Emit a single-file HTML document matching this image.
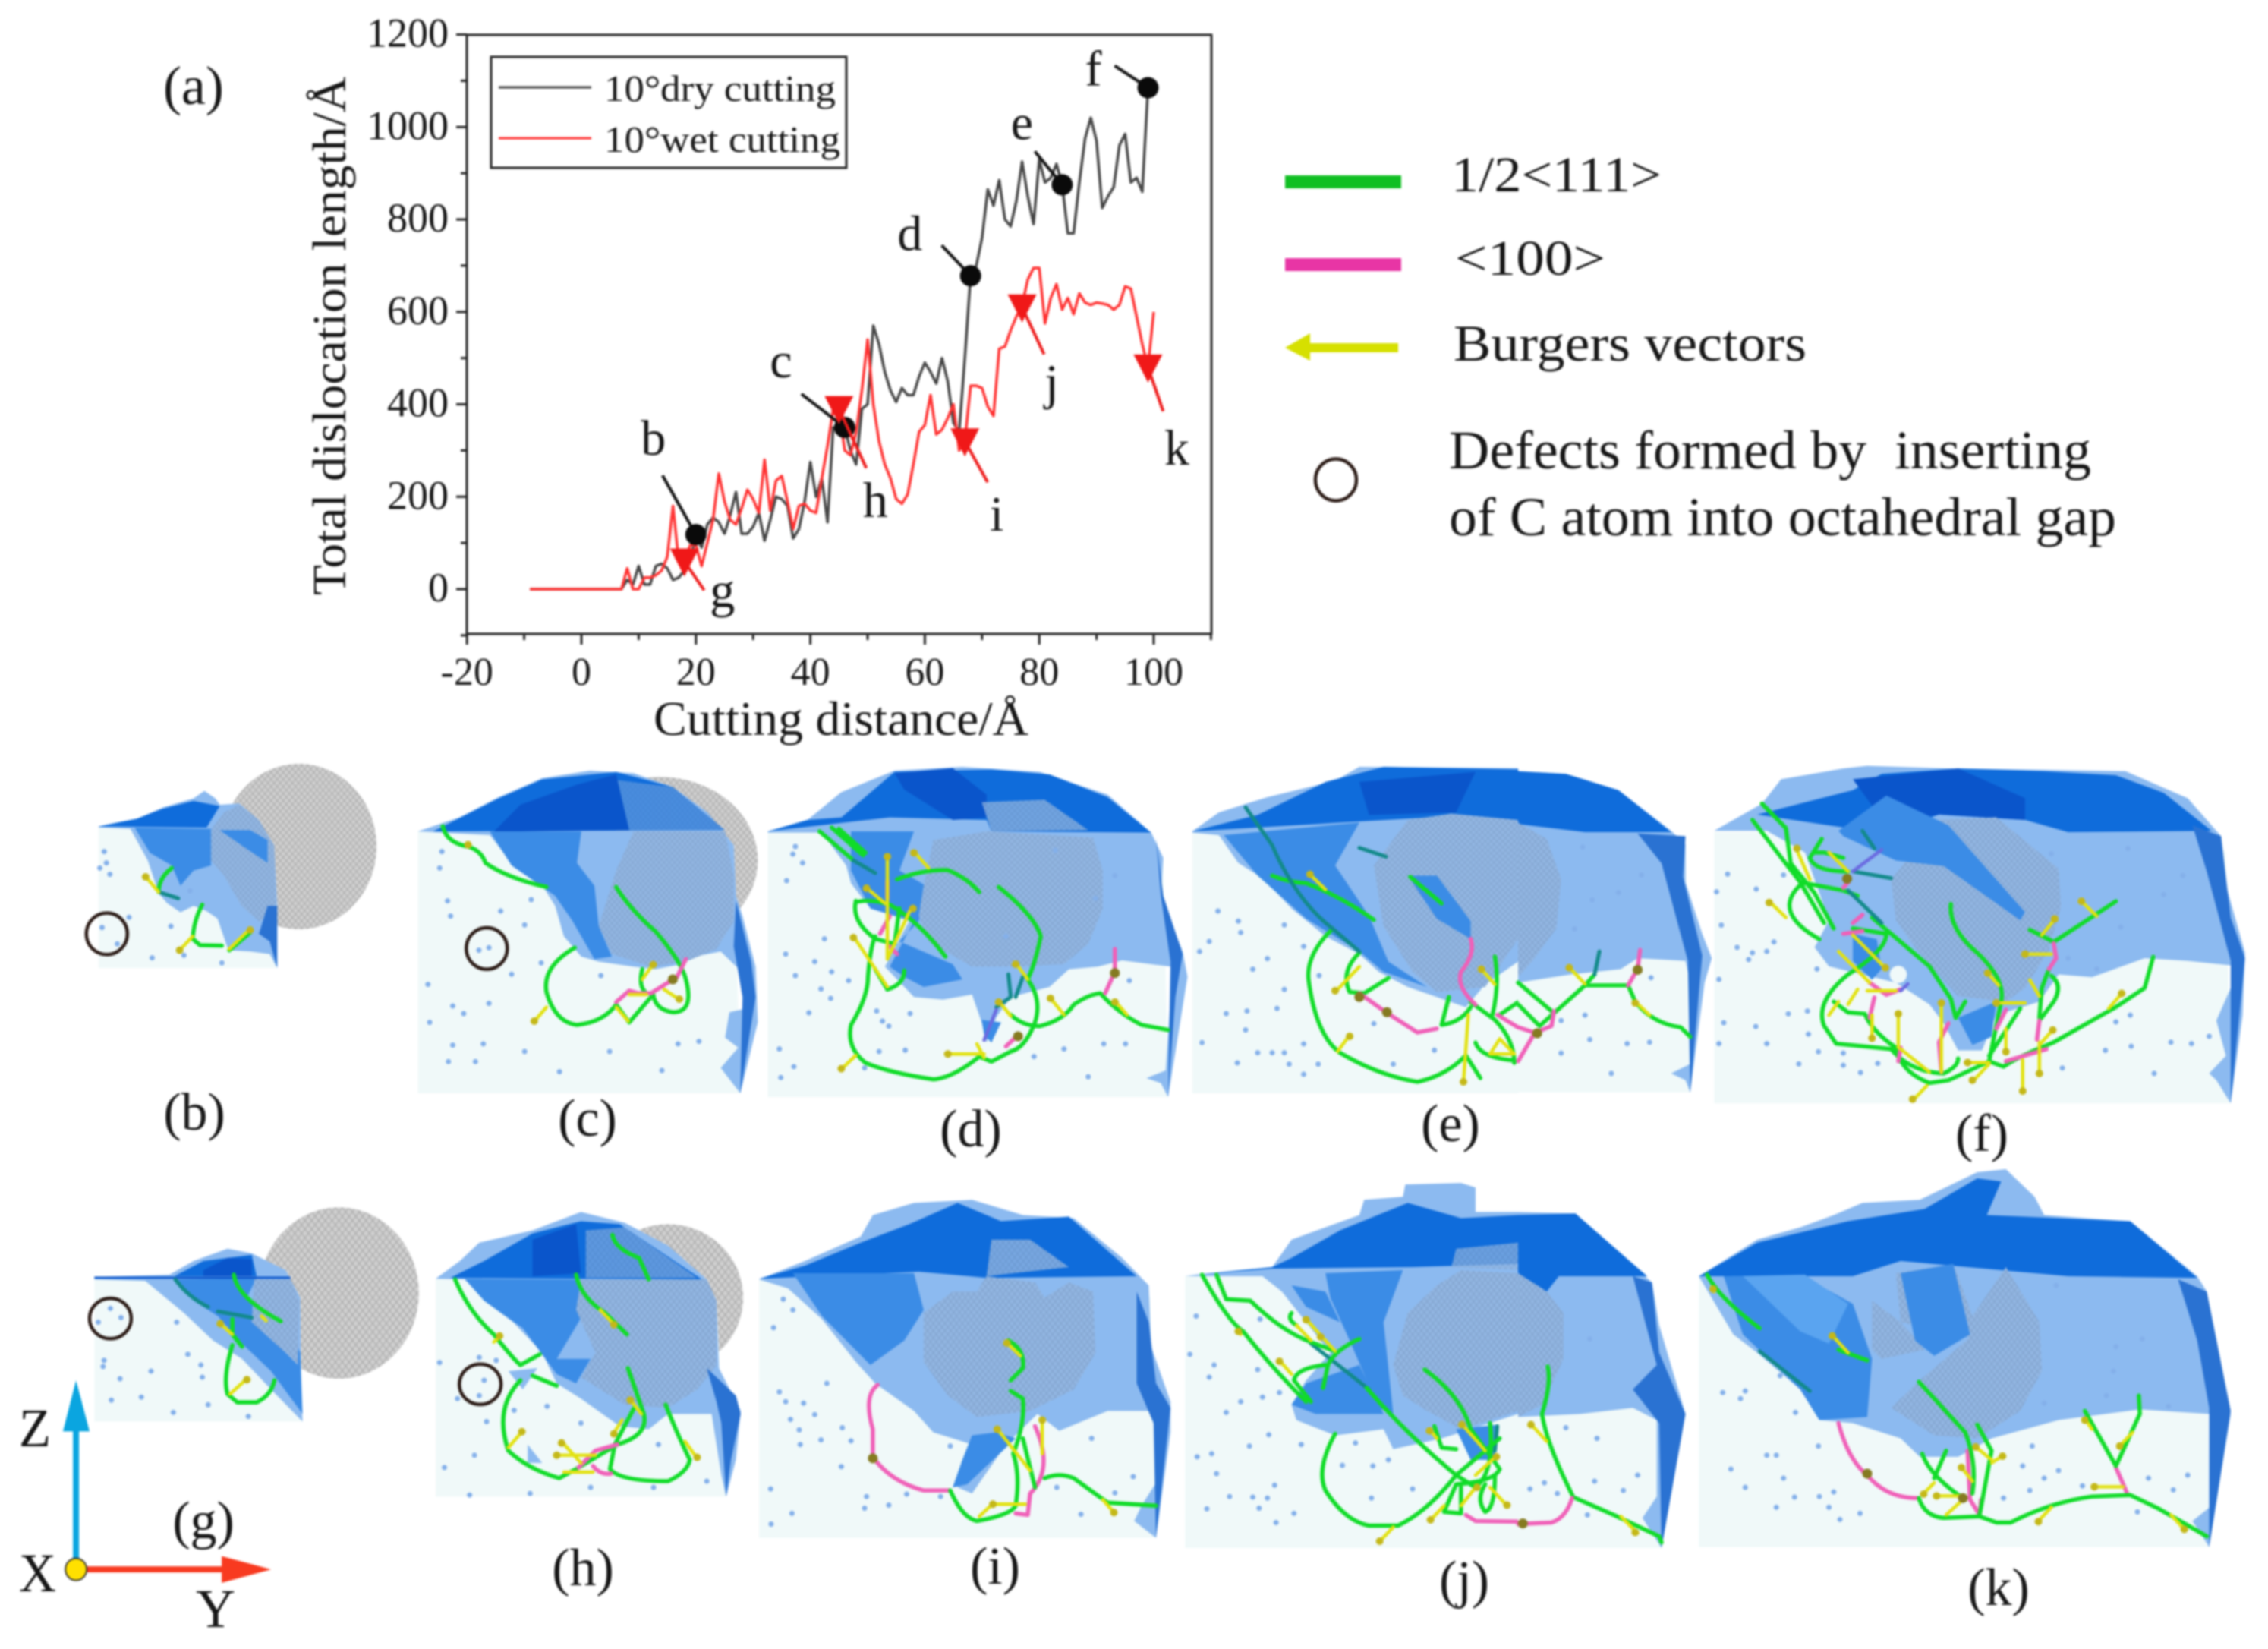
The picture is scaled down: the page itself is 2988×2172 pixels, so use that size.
<!DOCTYPE html>
<html lang="en">
<head>
<meta charset="utf-8">
<title>Dislocation length and defect panels</title>
<style>
html,body{margin:0;padding:0;background:#fff;width:2988px;height:2172px;overflow:hidden}
svg{display:block;filter:blur(1.3px)}
text{font-family:"Liberation Serif",serif;fill:#161616}
path,line,polyline,ellipse{vector-effect:non-scaling-stroke}
.bg{fill:#f0f9f9}
.L{fill:#8cbaf0}.M{fill:#3b8ce6}.D{fill:#0f6cdb}.X{fill:#0a55cb}.W{fill:#2a72d2}.P{fill:#5aa4f0}
.H{fill:url(#hatch)}.C{fill:url(#grayhex)}
.gr,.tl,.pk,.pu,.y,.t,.o,.s{fill:none;stroke-linecap:round;stroke-linejoin:round}
.gr{stroke:#10dc28;stroke-width:5.5}
.tl{stroke:#128a8a;stroke-width:5}
.pk{stroke:#f060b8;stroke-width:5.5}
.pu{stroke:#6a6ae0;stroke-width:4.5}
.y{stroke:#e2e210;stroke-width:4.5}
.t{stroke:#c4b818;stroke-width:10}
.o{stroke:#857a20;stroke-width:13}
.s{stroke:#84b0ea;stroke-width:7}
.ring{fill:none;stroke:#2a1a15;stroke-width:4.5}
</style>
</head>
<body>
<svg id="figure" xmlns="http://www.w3.org/2000/svg" width="2988" height="2172" viewBox="0 0 2988 2172">
<defs>
<pattern id="hatch" width="12" height="24" patternUnits="userSpaceOnUse"><rect width="12" height="24" fill="#92b6e2"/><path d="M0 0L6 12L12 0M0 24L6 12L12 24" stroke="#7d9ec8" stroke-width="1.5" fill="none"/></pattern>
<pattern id="grayhex" width="14" height="28" patternUnits="userSpaceOnUse"><rect width="14" height="28" fill="#d0d0d0"/><path d="M0 0L7 14L14 0M0 28L7 14L14 28" stroke="#a6a6a6" stroke-width="2" fill="none"/></pattern>
</defs>
<rect width="2988" height="2172" fill="#fff"/>

<!-- b + c -->
<g transform="translate(100 980) scale(.574 .3333)">
<ellipse class="C" cx="512" cy="405" rx="178" ry="327"/>
<polygon class="bg" points="52,325 400,325 455,400 460,885 52,885"/>
<g>
<polygon class="L" points="52,325 140,295 200,250 270,215 295,185 320,215 330,240 375,235 420,300 455,400 462,640 462,885 445,830 400,820 350,815 325,690 300,660 270,640 240,665 210,630 190,590 165,460 125,335 52,330"/>
<polygon class="H" points="310,340 340,270 375,240 420,300 455,400 460,680 420,700 380,640 340,520 310,460"/>
<polygon class="M" points="135,330 310,335 310,480 270,500 240,560 220,480 170,430"/>
<polygon class="D" points="52,325 140,295 200,255 270,225 330,245 300,330"/>
<polygon class="M" points="330,340 400,340 440,380 440,470 380,400"/>
<polygon class="W" points="440,640 462,640 462,885 445,780 420,750"/>
</g>
<g>
<path class="gr" d="M220,490Q190,530 190,585"/><path class="tl" d="M190,585L235,610"/>
<path class="gr" d="M290,635Q270,700 268,770L285,795L335,797M352,815L400,745"/>
</g>
<g>
<path class="y" d="M158,520L190,585M268,760L238,815M352,810L400,730"/><path class="t" d="M160,525h.01M238,815h.01M400,735h.01"/>
</g>
<path class="s" d="M65,425h.01M70,470h.01M55,490h.01M78,515h.01M122,685h.01M218,720h.01M60,725h.01M95,790h.01M175,845h.01M248,835h.01M335,865h.01M262,580h.01"/>
<ellipse class="ring" cx="71" cy="750" rx="47" ry="82"/>
</g>
<g transform="translate(100 980) scale(.574 .3333)">
<ellipse class="C" cx="1340" cy="460" rx="225" ry="330"/>
<polygon class="bg" points="785,345 1470,345 1510,400 1525,1380 785,1380"/>
<g>
<polygon class="L" points="785,345 880,290 970,210 1070,135 1180,105 1280,115 1370,170 1450,270 1510,400 1515,600 1530,680 1560,880 1565,1100 1525,1380 1480,1280 1520,1200 1490,1160 1500,1060 1550,1040 1540,920 1480,820 1420,840 1390,870 1330,890 1280,880 1200,860 1160,840 1120,760 1100,640 1060,530 1000,470 950,360 785,345"/>
<polygon class="D" points="820,345 970,215 1070,140 1240,110 1370,170 1490,340"/>
<polygon class="H" points="1150,345 1490,345 1510,520 1510,700 1470,810 1400,860 1320,880 1230,830 1200,720 1240,500 1280,345"/>
<polygon class="H" opacity=".45" points="1230,140 1370,170 1490,340 1240,345"/>
<polygon class="X" points="1020,240 1150,160 1240,120 1270,340 1020,345 960,345"/>
<polygon class="M" points="950,345 1160,345 1150,470 1190,560 1200,720 1230,840 1190,850 1140,700 1100,600 1000,480"/>
<polygon class="W" points="1515,620 1550,860 1560,1000 1525,1380 1530,1000 1510,800"/>
</g>
<g>
<path class="gr" d="M842,325Q850,390 900,405Q930,420 940,470Q990,530 1080,565M1240,565Q1270,650 1330,740Q1390,860 1400,930Q1420,1060 1370,1060Q1330,1050 1325,990M1145,805Q1070,880 1080,980Q1100,1100 1150,1110Q1210,1100 1240,1030L1270,1100L1325,990M1300,890Q1290,960 1310,985"/>
<path class="pk" d="M1240,1020L1270,975L1290,985L1320,985L1380,920L1400,850"/>
</g>
<g>
<path class="y" d="M1080,1040L1050,1100M1240,1040L1268,1095M1270,990L1310,990M1350,970L1385,1010M1325,870L1300,930"/>
<path class="t" d="M1052,1095h.01M1385,1008h.01M1325,872h.01M900,398h.01"/><path class="o" d="M1370,930h.01"/>
</g>
<path class="s" d="M840,425h.01M835,490h.01M853,620h.01M860,680h.01M975,660h.01M1030,715h.01M1045,615h.01M948,805h.01M925,815h.01M1000,910h.01M1068,865h.01M808,950h.01M865,1035h.01M890,1065h.01M948,1025h.01M812,1100h.01M865,1190h.01M935,1185h.01M855,1255h.01M917,1255h.01M1030,1215h.01M1110,1295h.01M1225,1215h.01M1345,1290h.01M1382,1185h.01M1430,1175h.01M1205,915h.01"/>
<ellipse class="ring" cx="943" cy="808" rx="47" ry="82"/>
</g>

<!-- d -->
<g transform="translate(1000 980) scale(.6378 .3333)">
<polygon class="bg" points="18,350 810,350 835,450 845,1395 18,1395"/>
<g>
<polygon class="L" points="18,345 100,300 170,190 280,105 420,90 580,110 720,200 810,350 835,450 830,600 875,820 885,920 845,1395 830,1340 800,1320 840,1290 850,1000 850,880 750,855 700,880 640,890 600,960 520,1000 490,1080 470,1180 460,1100 440,990 380,1010 320,1000 290,940 260,880 310,700 230,650 190,550 180,480 130,350 18,350"/>
<polygon class="D" points="18,345 100,300 170,290 280,110 480,100 600,120 720,210 810,350 480,345 470,300 270,290"/>
<polygon class="X" points="280,115 400,95 470,200 470,290 400,300 300,180"/>
<polygon class="H" opacity=".75" points="460,230 590,220 680,340 480,345"/>
<polygon class="M" points="190,345 320,345 290,500 345,560 330,700 290,780 400,870 420,930 340,960 300,920 270,880 320,700 230,650 190,500"/>
<polygon class="H" points="340,560 360,380 470,345 690,370 710,500 710,650 680,790 630,870 530,880 440,880 350,780 330,680"/>
<polygon class="W" points="820,370 835,600 875,830 860,1000 845,1395 850,860 830,600"/>
<polygon class="M" points="460,1090 500,1100 480,1180 465,1150"/>
</g>
<g>
<path class="gr" d="M125,345L195,460M150,330L215,440M165,335L220,430M285,535Q340,495 390,498Q430,530 455,585M495,565Q570,680 582,760Q570,870 555,930Q585,1010 570,1100Q550,1200 520,1215L480,1255L455,1235Q400,1320 360,1325Q270,1300 220,1260Q180,1200 190,1110Q225,1000 225,920Q230,800 240,760M200,620Q190,700 240,770L280,790L290,650M200,625Q230,610 270,635Q330,700 385,840M240,890L265,970Q300,950 300,895M520,1070Q545,1115 580,1115Q630,1090 650,1030Q680,990 705,985Q740,1060 790,1110L845,1130"/>
<path class="pk" d="M735,810L735,900L715,985M270,680L250,750M535,1150L510,1195M265,540L265,610M270,800L285,830"/>
<path class="tl" d="M515,910L520,1000L490,1040M545,920L530,1000M195,460L240,510"/>
<path class="pu" d="M490,1050L465,1170"/>
</g>
<g>
<path class="y" d="M265,440L265,850M320,425L350,490M220,565L260,630M315,645L265,850M195,760L265,960M530,865L555,930M495,1015L520,1075M600,1000L630,1070M735,1015L760,1070M385,1225L465,1225M450,1185L465,1240M170,1285L200,1230"/>
<path class="t" d="M265,445h.01M320,430h.01M222,570h.01M318,650h.01M195,765h.01M530,870h.01M495,1020h.01M602,1005h.01M735,1020h.01M390,1225h.01M170,1283h.01"/><path class="o" d="M735,905h.01M535,1155h.01"/>
</g>
<path class="s" d="M75,405h.01M70,435h.01M90,470h.01M57,540h.01M135,770h.01M55,830h.01M115,860h.01M75,915h.01M150,900h.01M185,935h.01M128,968h.01M148,1005h.01M103,1062h.01M243,1055h.01M312,1065h.01M255,1095h.01M268,1115h.01M42,1205h.01M248,1215h.01M302,1210h.01M72,1275h.01M218,1280h.01M45,1318h.01M712,1185h.01M757,1185h.01M630,1205h.01M568,1235h.01M680,1315h.01M735,520h.01M612,420h.01M510,760h.01M695,610h.01M765,935h.01"/>
</g>

<!-- e -->
<g transform="translate(1000 980) scale(.6378 .3333)">
<rect class="bg" x="895" y="345" width="673" height="1035"/>
<g>
<polygon class="L" points="895,345 950,270 1050,210 1190,145 1240,90 1568,95 1568,860 1500,950 1460,1040 1400,1000 1340,960 1280,900 1240,830 1170,760 1100,650 1040,530 990,470 950,360 895,350"/>
<polygon class="D" points="895,345 1030,280 1170,150 1290,90 1568,100 1568,305 1430,285 1250,305"/>
<polygon class="X" points="1240,150 1480,110 1440,270 1260,280"/>
<polygon class="M" points="960,360 1240,310 1190,480 1260,680 1300,860 1380,960 1290,900 1240,820 1130,690 1030,520"/>
<polygon class="H" points="1270,480 1340,300 1430,275 1568,300 1568,770 1500,960 1400,980 1350,900 1290,720"/>
<polygon class="M" points="1340,520 1400,520 1470,700 1470,770 1400,690"/>
</g>
<g>
<path class="gr" d="M1060,520Q1090,545 1130,550Q1200,600 1270,695M1185,730Q1130,830 1135,930Q1150,1150 1200,1220Q1280,1310 1360,1335Q1420,1310 1460,1230L1490,1320M1240,825Q1200,900 1220,980L1250,985L1300,925M1345,525L1410,630M1425,1000L1410,1110Q1450,1100 1470,1040M1520,840Q1530,950 1515,1070M1470,1020L1520,1090Q1560,1170 1560,1260M1480,1180Q1490,1240 1560,1250M1568,1020L1530,1070"/>
<path class="tl" d="M1005,250L1060,400Q1110,620 1185,730L1240,820M1240,410L1295,445"/>
<path class="pk" d="M1470,770Q1480,830 1450,900Q1440,960 1480,1030M1240,985L1295,1060L1360,1140L1400,1125M1525,1070L1568,1120"/>
</g>
<g>
<path class="y" d="M1135,510L1170,575M1190,980L1240,880M1220,1150L1195,1215M1490,885L1520,950M1455,1340L1465,1070M1530,1165L1510,1225L1560,1225L1530,1165"/>
<path class="t" d="M1138,515h.01M1190,975h.01M1220,1155h.01M1492,890h.01M1455,1335h.01"/><path class="o" d="M1297,1060h.01M1240,1000h.01"/>
</g>
<path class="s" d="M948,660h.01M990,700h.01M1085,715h.01M995,745h.01M930,780h.01M910,820h.01M1125,800h.01M1050,848h.01M1020,890h.01M1157,915h.01M1085,970h.01M965,1065h.01M1008,1055h.01M1070,1045h.01M1270,1105h.01M1005,1130h.01M1125,1185h.01M915,1180h.01M1030,1220h.01M1060,1220h.01M1085,1220h.01M988,1260h.01M1095,1265h.01M1155,1265h.01M1125,1305h.01M1310,1265h.01M1395,1210h.01"/>
</g>
<g transform="translate(2000 980) scale(.6301 .3571)">
<polygon class="bg" points="0,330 320,330 350,375 360,1285 0,1285"/>
<g>
<polygon class="L" points="0,100 100,110 210,170 320,320 350,370 350,510 385,700 405,790 390,880 360,1285 350,1240 320,1215 360,1180 360,880 350,800 250,790 215,830 110,850 0,880"/>
<polygon class="D" points="0,100 100,110 210,170 320,325 140,325 0,295"/>
<polygon class="H" points="0,290 60,350 90,500 80,680 30,800 0,860"/>
<polygon class="W" points="250,330 350,340 345,490 385,780 360,1285 355,800 300,440"/>
</g>
<g>
<path class="gr" d="M0,960L45,1040L140,890L230,890L245,950Q280,1030 340,1045L360,1080M0,880L70,985M140,890L160,850"/>
<path class="tl" d="M160,850L170,765"/>
<path class="pk" d="M255,760L250,830L230,890M0,1045L35,1065L70,1040L75,985M35,1065L0,1170"/>
</g>
<g>
<path class="y" d="M105,820L140,885M245,950L275,1000"/><path class="t" d="M107,825h.01M245,955h.01"/><path class="o" d="M250,833h.01M40,1067h.01"/>
</g>
<path class="s" d="M135,380h.01M258,483h.01M210,548h.01M155,575h.01M118,682h.01M278,862h.01M140,1000h.01M90,1020h.01M150,1090h.01M228,1105h.01M275,1100h.01M90,1140h.01M195,1215h.01"/>
</g>

<!-- f -->
<g transform="translate(2000 980) scale(.6301 .3571)">
<polygon class="bg" points="410,325 1440,325 1480,400 1490,1325 410,1325"/>
<g>
<polygon class="L" points="410,320 510,220 550,130 680,90 730,80 900,90 1100,95 1270,100 1400,200 1470,340 1480,520 1520,770 1515,1000 1490,1325 1460,1240 1445,1215 1480,1150 1460,1020 1510,820 1400,800 1310,790 1200,860 1130,850 1090,950 1000,1000 970,1130 920,1130 890,1030 860,960 790,880 650,820 620,750 650,650 600,400 520,320"/>
<polygon class="D" points="410,320 500,260 700,170 760,110 920,90 1100,100 1250,115 1350,180 1450,320 1150,325 1060,280 880,260 770,330 650,300 500,260"/>
<polygon class="X" points="700,130 920,90 1060,200 1060,280 880,260 770,300"/>
<polygon class="H" points="780,500 880,280 1000,270 1130,460 1135,600 1110,760 1060,900 1020,950 920,930 830,750 790,650"/>
<polygon class="M" points="670,320 770,190 900,300 1060,620 1050,650 890,450 790,430 680,340"/>
<polygon class="M" points="700,700 750,720 760,830 740,870 700,800"/>
<polygon class="M" points="920,1010 1000,950 990,1080 950,1110"/>
<polygon class="W" points="1410,300 1470,340 1490,640 1520,790 1490,1325 1490,800 1440,470"/>
<ellipse cx="795" cy="850" rx="18" ry="32" fill="#f0f9f9"/>
</g>
<g>
<path class="gr" d="M510,220L560,310M490,280L590,510L640,660M560,310L570,440L620,550L660,680M635,350L610,420Q620,470 690,470M590,520Q530,620 630,720M620,400L640,400L680,420M590,510L680,540L710,560M700,680L770,700Q770,760 690,850Q620,950 640,1040L665,1105L780,1125Q820,1210 890,1215Q920,1190 920,1160M660,950L690,990L725,995Q740,1060 790,1120Q800,1210 860,1250L900,1240Q950,1200 985,1170L1015,1190Q1040,1160 1080,1130L1120,1100L1250,970L1310,900L1328,785M740,640L860,820L905,940L915,1010L935,950M905,590Q900,680 960,770Q1020,870 1010,950L985,1170M1050,975L1030,1030L985,1150M1070,685L1120,730L1250,580M1110,830L1095,900L1090,1010M1115,855Q1140,890 1120,950L1090,1020"/>
<path class="pk" d="M680,700L720,690M1120,735L1125,790L1110,830M735,880L770,925L800,905M745,935L735,1010M800,1120L795,1170M900,1030L880,1100L885,1210M1020,980L1000,1050M1020,1170L1105,1125M1090,1020L1085,1090M690,510L680,530M700,660L720,630"/>
<path class="tl" d="M700,470L780,495M720,320L745,385M690,540L760,660"/>
<path class="pu" d="M760,390L700,470M815,885L800,910"/>
</g>
<g>
<path class="y" d="M580,380L610,500M650,400L690,470M525,580L560,640M650,1000L670,950M795,990L795,1120M885,950L885,1210M1055,1165L1055,1285M1090,1100L1090,1220M1020,1050L1020,1140M740,1000L740,1090M1055,775L1115,775M700,705L770,830M935,1175L985,1175M825,1315L855,1260M1175,575L1210,635M1125,640L1095,705M980,840L1005,890M1265,915L1235,975M1070,870L1090,930M1120,1050L1090,1110M995,955L1060,955M800,1125L860,1210M950,1245L985,1180M670,765L735,880M710,905L690,960M730,910L790,910"/>
<path class="t" d="M583,385h.01M525,585h.01M795,995h.01M885,955h.01M1055,1280h.01M1090,1215h.01M1020,1135h.01M740,1085h.01M1060,775h.01M768,825h.01M940,1175h.01M825,1310h.01M1178,580h.01M1122,645h.01M982,845h.01M1262,920h.01M1118,1055h.01M1000,955h.01M950,1240h.01"/><path class="o" d="M688,497h.01"/>
</g>
<path class="s" d="M438,480h.01M555,483h.01M415,545h.01M498,535h.01M425,668h.01M458,750h.01M490,770h.01M520,765h.01M535,730h.01M482,795h.01M625,830h.01M420,868h.01M565,995h.01M605,985h.01M430,1028h.01M497,1042h.01M607,1070h.01M420,1105h.01M520,1105h.01M628,1135h.01M680,1140h.01M680,1185h.01M587,1180h.01M716,1212h.01M752,1178h.01M1250,1025h.01M1280,1000h.01M1282,1115h.01M1365,1100h.01M1408,1105h.01M1445,1078h.01M1330,1215h.01M1138,1195h.01M1228,1130h.01M1275,385h.01M1115,405h.01M1390,485h.01M1350,555h.01M1260,675h.01M1150,790h.01M1210,830h.01"/>
</g>

<!-- g + h -->
<g transform="translate(0 1540) scale(.6378 .403)">
<ellipse class="C" cx="700" cy="405" rx="165" ry="280"/>
<polygon class="bg" points="195,350 590,350 618,420 625,825 195,825"/>
<g>
<polygon class="L" points="195,352 350,345 400,300 470,260 520,275 590,330 620,420 622,700 625,825 560,720 500,620 440,560 380,470 300,365 195,360"/>
<polygon class="M" points="360,360 530,355 510,420 600,520 620,600 625,800 560,660 500,570 450,480 400,430"/>
<polygon class="H" points="525,360 600,360 618,430 615,640 590,600 520,500"/>
<polygon class="D" points="360,350 420,300 520,280 530,350"/>
<polygon class="X" points="420,330 470,290 520,295 520,350 420,350"/>
<polygon class="X" points="195,351 600,351 600,358 195,358"/>
</g>
<g>
<path class="gr" d="M483,345Q490,420 580,497M480,490L480,540L500,580M480,575Q460,680 470,735L490,762L530,762Q560,740 567,690"/>
<path class="tl" d="M362,360Q390,420 430,450M450,465L520,485"/>
</g>
<g>
<path class="y" d="M475,735L510,685M452,500L480,540M550,495L540,480"/><path class="t" d="M510,688h.01M455,505h.01"/>
</g>
<path class="s" d="M228,455h.01M250,485h.01M203,500h.01M215,625h.01M213,645h.01M248,685h.01M312,660h.01M388,605h.01M365,500h.01M415,640h.01M418,680h.01M292,745h.01M230,755h.01M430,770h.01M358,795h.01M513,808h.01"/>
<ellipse class="ring" cx="228" cy="488" rx="43" ry="66"/>
</g>
<g transform="translate(0 1540) scale(.6378 .403)">
<ellipse class="C" cx="1380" cy="420" rx="155" ry="240"/>
<polygon class="bg" points="900,358 1455,358 1480,430 1500,1070 900,1070"/>
<g>
<polygon class="L" points="900,358 950,300 990,240 1100,200 1200,140 1290,175 1380,250 1460,360 1480,430 1485,650 1530,790 1520,950 1500,1070 1490,1000 1470,800 1380,800 1340,850 1280,840 1200,750 1150,700 1120,600 1060,500 1000,430 960,360"/>
<polygon class="D" points="930,355 1000,300 1100,210 1200,170 1280,180 1450,360"/>
<polygon class="X" points="1100,230 1190,180 1200,340 1100,350"/>
<polygon class="H" opacity=".6" points="1210,200 1290,190 1440,355 1210,355"/>
<polygon class="M" points="960,358 1190,360 1210,460 1150,620 1220,620 1190,700 1150,670 1080,520 1000,430"/>
<polygon class="H" points="1200,360 1460,360 1480,430 1480,640 1440,720 1380,780 1290,770 1200,680 1230,600 1190,460"/>
<polygon class="W" points="1460,650 1520,740 1530,800 1510,950 1500,1070 1490,830 1480,760"/>
<polygon class="L" points="1050,660 1110,650 1080,720"/>
<polygon class="L" points="1090,900 1120,960 1090,960"/>
</g>
<g>
<path class="gr" d="M940,360Q970,470 1020,540Q1060,620 1075,640M1075,640L1115,605M1100,675L1150,708M1075,690Q1020,780 1050,920Q1090,980 1155,1010L1190,980L1275,900Q1340,870 1330,800L1297,650M1190,345Q1200,420 1250,470L1295,540M1265,215Q1270,260 1320,290L1340,360M1310,780L1270,900L1260,980Q1280,1020 1380,1020Q1420,990 1425,950Q1400,870 1375,770"/>
<path class="pk" d="M1195,975L1230,920L1275,900M1225,970Q1240,1000 1262,995"/>
</g>
<g>
<path class="y" d="M1050,910L1080,855M1145,935L1230,935M1160,890L1200,960M1165,990L1225,990M1300,750L1325,800M1265,870L1285,820M1440,945L1415,890M1240,460L1270,510M1035,545L1020,565"/>
<path class="t" d="M1078,858h.01M1150,935h.01M1160,895h.01M1302,755h.01M1268,865h.01M1440,942h.01M1268,508h.01M1032,545h.01"/>
</g>
<path class="s" d="M908,632h.01M990,615h.01M1025,625h.01M1000,690h.01M990,740h.01M945,750h.01M1062,788h.01M1130,775h.01M1005,825h.01M1200,830h.01M980,935h.01M918,975h.01M1360,900h.01M1220,1040h.01M1350,1040h.01M970,1065h.01M1095,1060h.01M1460,1020h.01"/>
<ellipse class="ring" cx="992" cy="703" rx="43" ry="66"/>
</g>

<!-- axes triad -->
<g transform="translate(0 1540) scale(.6378 .403)">
<line x1="157" y1="1280" x2="157" y2="850" stroke="#0aa5e0" stroke-width="8"/>
<polygon points="130,857 185,857 157,690" fill="#0aa5e0"/>
<line x1="170" y1="1308" x2="460" y2="1308" stroke="#f83a20" stroke-width="8"/>
<polygon points="458,1265 560,1308 458,1352" fill="#f83a20"/>
<ellipse cx="157" cy="1308" rx="22" ry="36" fill="#ffe000" stroke="#333" stroke-width="2"/>
</g>
<text x="25" y="1905" font-size="72" textLength="42" lengthAdjust="spacingAndGlyphs">Z</text>
<text x="25" y="2096" font-size="72" textLength="49" lengthAdjust="spacingAndGlyphs">X</text>
<text x="258" y="2143" font-size="72" textLength="52" lengthAdjust="spacingAndGlyphs">Y</text>

<!-- i -->
<g transform="translate(1000 1540) scale(.6378 .403)">
<polygon class="bg" points="0,360 790,360 808,420 820,1205 0,1205"/>
<g>
<polygon class="L" points="0,360 95,300 210,220 235,150 320,110 440,100 545,150 650,160 750,290 805,380 810,580 850,760 850,860 820,1205 775,1150 790,1100 830,1000 815,790 720,790 620,855 575,800 510,900 440,1060 410,1040 440,900 360,860 320,790 240,700 200,630 130,490 60,390"/>
<polygon class="D" points="0,358 95,315 210,240 310,180 410,110 500,170 640,155 780,350 470,355 330,335"/>
<polygon class="H" opacity=".8" points="480,230 560,230 640,320 470,350"/>
<polygon class="M" points="70,340 320,340 340,460 300,560 230,640 130,480"/>
<polygon class="H" points="340,470 400,400 450,400 470,350 570,370 590,420 640,370 690,400 695,600 650,720 560,790 450,810 390,740 340,630"/>
<polygon class="W" points="780,400 805,500 820,700 850,780 820,1205 815,830 780,700"/>
<polygon class="M" points="440,870 490,860 530,880 430,1030 400,1040 420,950"/>
</g>
<g>
<path class="pk" d="M245,705Q215,740 235,850L235,940Q270,1020 340,1050L395,1050M570,840Q610,980 560,1060L555,1130L530,1125"/>
<path class="gr" d="M395,1050Q420,1140 450,1150Q520,1130 530,1100Q540,1000 525,930Q550,830 545,750L520,725M515,560Q550,590 545,650L520,690M545,880L570,1040M590,1010Q620,990 650,1010L720,1090L820,1100"/>
</g>
<g>
<path class="y" d="M510,565L540,610M490,845L560,985M585,815L585,930M480,1095L550,1095M455,1135L485,1090M710,1080L735,1125"/>
<path class="t" d="M512,568h.01M492,850h.01M585,820h.01M483,1095h.01M733,1122h.01"/><path class="o" d="M235,945h.01"/>
</g>
<path class="s" d="M50,425h.01M70,460h.01M30,518h.01M140,700h.01M42,728h.01M55,760h.01M92,765h.01M115,802h.01M65,818h.01M172,845h.01M83,852h.01M128,885h.01M190,888h.01M85,900h.01M395,905h.01M170,972h.01M24,1045h.01M222,1070h.01M305,1062h.01M375,1070h.01M268,1098h.01M218,1108h.01M68,1125h.01M25,1160h.01M615,1040h.01M687,880h.01M735,1058h.01M665,1128h.01M773,1005h.01"/>
</g>

<!-- j -->
<g transform="translate(1000 1540) scale(.6378 .403)">
<rect class="bg" x="880" y="350" width="688" height="888"/>
<g>
<polygon class="L" points="880,350 1060,320 1100,230 1240,150 1250,100 1330,90 1335,50 1450,45 1480,60 1480,140 1568,140 1568,800 1450,860 1410,880 1310,915 1290,850 1190,870 1110,820 1100,770 1130,690 1180,600 1080,400 1040,350"/>
<polygon class="D" points="880,348 1060,320 1100,290 1200,200 1340,110 1450,160 1568,150 1568,310 1350,320 1060,325"/>
<polygon class="H" opacity=".7" points="1440,260 1568,240 1568,330 1430,320"/>
<polygon class="M" points="1170,340 1330,330 1290,500 1310,800 1280,780 1220,560 1180,420"/>
<polygon class="H" points="1310,640 1340,470 1400,380 1450,330 1568,340 1568,790 1450,850 1380,790 1330,740"/>
<polygon class="M" points="1130,700 1240,640 1290,800 1150,800 1100,770"/>
<polygon class="M" points="1440,850 1525,835 1520,950 1470,950"/>
<polygon class="M" points="1100,380 1170,400 1200,500 1130,450"/>
</g>
<g>
<path class="tl" d="M1140,570L1260,720M1525,840L1520,920"/>
<path class="gr" d="M915,345Q970,500 1000,530Q1060,650 1130,760M945,345L965,425L1015,430Q1080,530 1140,565L1190,595M1240,555Q1190,590 1175,640L1165,715M1170,640Q1110,650 1105,690L1140,760M1190,865Q1150,980 1170,1050Q1210,1150 1260,1165L1320,1165Q1380,1120 1440,1000L1530,880M1255,715Q1340,870 1440,1000L1480,1040Q1520,990 1510,830M1375,655Q1450,740 1470,850L1530,980Q1520,1020 1440,1030L1415,1120L1450,1125L1450,1040M1395,840L1410,910L1440,915M1500,1030Q1480,1080 1500,1120Q1520,1110 1520,1000M1100,470Q1090,490 1110,510"/>
<path class="pk" d="M1460,1130L1480,1150L1568,1152"/>
</g>
<g>
<path class="y" d="M1130,490L1190,595M1110,510L1140,560M990,525L995,540M1075,625L1100,670M1280,1220L1310,1170M1385,1150L1415,1100M1450,830L1500,920M1385,850L1400,880M1525,935L1480,1000M1545,1100L1510,1040M1480,1040L1450,1100"/>
<path class="t" d="M1130,492h.01M1160,548h.01M990,530h.01M1075,628h.01M1282,1216h.01M1387,1146h.01M1452,835h.01M1385,855h.01M1523,940h.01M1545,1098h.01M1483,1040h.01"/>
</g>
<path class="s" d="M903,480h.01M1035,490h.01M890,605h.01M940,640h.01M930,680h.01M1030,655h.01M1040,745h.01M1075,730h.01M995,760h.01M965,795h.01M1053,868h.01M1013,905h.01M1120,900h.01M1232,895h.01M905,940h.01M935,930h.01M945,995h.01M1205,968h.01M1268,970h.01M1300,950h.01M1065,1033h.01M972,1070h.01M1020,1072h.01M1050,1075h.01M1265,1075h.01M1350,1045h.01M1033,1108h.01M925,1110h.01M1105,1125h.01M1068,1155h.01"/>
</g>
<g transform="translate(2000 1540) scale(.6301 .403)">
<polygon class="bg" points="0,350 265,350 288,420 300,1238 0,1238"/>
<g>
<polygon class="L" points="0,140 120,145 280,370 295,510 350,800 300,1238 260,1140 290,1070 290,820 240,780 130,800 0,810"/>
<polygon class="D" points="0,150 120,145 270,350 85,350 60,400 0,340"/>
<polygon class="H" points="0,340 60,400 95,470 95,620 50,770 0,810"/>
<polygon class="W" points="240,350 280,370 295,600 350,800 300,1238 295,830 240,720 290,640"/>
</g>
<g>
<path class="gr" d="M62,645Q70,700 50,800Q60,900 115,1070M120,1075L200,1130L295,1200L300,1220"/>
<path class="pk" d="M113,1075Q100,1140 70,1155L0,1160"/>
</g>
<g>
<path class="y" d="M25,830L60,890M215,1135L250,1190"/><path class="t" d="M27,835h.01M245,1187h.01"/><path class="o" d="M10,1158h.01"/>
</g>
<path class="s" d="M150,555h.01M100,845h.01M165,880h.01M55,1025h.01M250,1000h.01M25,1045h.01M82,1060h.01M160,1020h.01M220,1050h.01M145,1130h.01"/>
</g>

<!-- k -->
<g transform="translate(2000 1540) scale(.6301 .403)">
<polygon class="bg" points="378,350 1415,350 1440,400 1445,1235 378,1235"/>
<g>
<polygon class="L" points="378,350 500,230 590,190 660,150 720,110 840,100 960,10 1020,0 1080,90 1100,150 1280,170 1420,350 1440,400 1445,540 1490,800 1445,1235 1410,1150 1450,1100 1445,800 1300,785 1130,820 990,880 920,940 840,940 800,880 700,830 630,820 590,720 500,600 450,540 378,350"/>
<polygon class="D" points="378,350 500,240 690,170 850,130 960,30 1010,40 980,150 1280,170 1420,355 1150,350 800,300 700,350"/>
<polygon class="M" points="430,350 590,345 700,440 740,620 730,810 630,820 590,720 470,540"/>
<polygon class="P" points="470,350 600,345 690,440 650,570 590,530"/>
<polygon class="H" points="790,340 910,310 950,480 1020,320 1090,500 1095,660 1050,790 960,880 870,870 780,780 840,690 945,550 800,500"/>
<polygon class="H" points="740,430 800,500 850,590 760,620 740,590"/>
<polygon class="M" points="800,340 910,310 945,540 870,610 830,560"/>
<polygon class="W" points="1380,360 1440,400 1490,790 1445,1235 1445,780 1420,560"/>
</g>
<g>
<path class="tl" d="M505,595L610,725"/>
<path class="pk" d="M670,830Q690,950 730,1000Q770,1075 835,1075M1250,975L1275,1065M940,920L945,1080L965,1130M968,1080L965,1130"/>
<path class="gr" d="M395,345Q420,420 505,520M670,590L730,625M838,695L935,860Q960,960 950,1060M960,835L990,920L965,1130M845,930Q860,1000 930,1075M895,920L870,1010M838,1075Q850,1135 890,1140L965,1135L1000,1155L1030,1155Q1110,1090 1200,1070L1280,1065L1340,1110L1440,1200M1185,790L1250,970L1300,800L1298,740"/>
</g>
<g>
<path class="y" d="M655,540L690,600M405,385L410,400M1185,815L1200,850M1255,910L1285,860M1200,1038L1265,1038M870,1068L935,1068M1085,1155L1115,1105M1395,1180L1365,1130M955,905L990,950M1015,935L990,960M925,970L950,1020M895,1130L930,1080M845,1065L870,1025"/>
<path class="t" d="M657,545h.01M408,392h.01M1185,820h.01M1258,905h.01M1205,1038h.01M875,1068h.01M1088,1152h.01M1393,1177h.01M957,908h.01M1013,938h.01M927,975h.01M848,1062h.01"/><path class="o" d="M730,995h.01M930,1075h.01"/>
</g>
<path class="s" d="M428,730h.01M475,725h.01M465,750h.01M580,795h.01M548,675h.01M628,905h.01M520,935h.01M540,935h.01M445,980h.01M475,1040h.01M555,1010h.01M578,1072h.01M630,1070h.01M660,1055h.01M540,1105h.01M650,1105h.01M673,1145h.01M715,1125h.01M1075,905h.01M1055,970h.01M1130,985h.01M1100,1010h.01M1070,1050h.01M1180,1035h.01M1015,1075h.01M1400,1000h.01M1370,1048h.01M1318,1010h.01M1295,1120h.01M1125,380h.01M1305,555h.01M1250,580h.01M1230,740h.01M1245,660h.01M1100,765h.01M1360,775h.01"/>
</g>

<!-- panel captions -->
<text x="215" y="137" font-size="72">(a)</text>
<text x="256" y="1488" font-size="70" text-anchor="middle">(b)</text>
<text x="774" y="1496" font-size="70" text-anchor="middle">(c)</text>
<text x="1279" y="1510" font-size="70" text-anchor="middle">(d)</text>
<text x="1911" y="1503" font-size="70" text-anchor="middle">(e)</text>
<text x="2611" y="1516" font-size="70" text-anchor="middle">(f)</text>
<text x="268" y="2026" font-size="70" text-anchor="middle">(g)</text>
<text x="768" y="2088" font-size="70" text-anchor="middle">(h)</text>
<text x="1311" y="2086" font-size="70" text-anchor="middle">(i)</text>
<text x="1929" y="2104" font-size="70" text-anchor="middle">(j)</text>
<text x="2633" y="2114" font-size="70" text-anchor="middle">(k)</text>

<!-- right legend -->
<g>
<rect x="1693" y="231" width="153" height="17" fill="#0fbf22"/>
<text x="1912" y="252" font-size="66" textLength="277" lengthAdjust="spacingAndGlyphs">1/2&lt;111&gt;</text>
<rect x="1693" y="340" width="153" height="17" fill="#e835a5"/>
<text x="1917" y="362" font-size="66" textLength="198" lengthAdjust="spacingAndGlyphs">&lt;100&gt;</text>
<polygon points="1693,458 1726,439 1726,452 1842,452 1842,464 1726,464 1726,475" fill="#d6e000"/>
<text x="1915" y="475" font-size="68" textLength="465" lengthAdjust="spacingAndGlyphs">Burgers vectors</text>
<ellipse class="ring" cx="1760" cy="632" rx="27" ry="27.5"/>
<text x="1909" y="617" font-size="72" textLength="846" lengthAdjust="spacingAndGlyphs" xml:space="preserve">Defects formed by  inserting</text>
<text x="1909" y="705" font-size="72" textLength="879" lengthAdjust="spacingAndGlyphs">of C atom into octahedral gap</text>
</g>

<!-- chart (a) -->
<g id="chart">
<rect x="615" y="46" width="981" height="789" fill="none" stroke="#222" stroke-width="3"/>
<g id="axes"></g>
<g id="series"></g>
<g id="markers"></g>
<text transform="translate(455 784) rotate(-90)" font-size="62" textLength="683" lengthAdjust="spacingAndGlyphs">Total dislocation length/Å</text>
<text x="861" y="968" font-size="64" textLength="494" lengthAdjust="spacingAndGlyphs">Cutting distance/Å</text>
<g>
<rect x="647" y="75" width="468" height="146" fill="#fff" stroke="#222" stroke-width="3"/>
<line x1="657" y1="115" x2="779" y2="115" stroke="#444" stroke-width="3"/>
<text x="796" y="133" font-size="49" textLength="305" lengthAdjust="spacingAndGlyphs">10°dry cutting</text>
<line x1="657" y1="182" x2="779" y2="182" stroke="#ff3030" stroke-width="3"/>
<text x="796" y="200" font-size="49" textLength="311" lengthAdjust="spacingAndGlyphs">10°wet cutting</text>
</g>
</g>
</svg>
<script>
const xTickLabels = [-20, 0, 20, 40, 60, 80, 100];
const xMinorTicks = [-10, 10, 30, 50, 70, 90, 110];
const yTickLabels = [0, 200, 400, 600, 800, 1000, 1200];
const yMinorTicks = [-100, 100, 300, 500, 700, 900, 1100];

const cuttingDistance = [-9,-8,-7,-6,-5,-4,-3,-2,-1,0,1,2,3,4,5,6,7,
  8,9,10,11,12,13,14,15,16,17,18,19,20,21,22,23,24,25,26,27,28,29,30,31,32,33,34,35,36,37,
  38,39,40,41,42,43,44,45,46,47,48,49,50,51,52,53,54,55,56,57,58,59,60,61,62,63,64,65,66,67,
  68,69,70,71,72,73,74,75,76,77,78,79,80,81,82,83,84,85,86,87,88,89,90,91,92,93,94,95,96,97,98,99,100];

const dryLength = [0,0,0,0,0,0,0,0,0,0,0,0,0,0,0,0,0,
  20,10,50,10,10,50,55,45,20,25,
  40,60,118,90,140,155,145,120,160,210,
  120,120,135,165,105,150,200,195,180,110,
  130,190,275,200,240,145,350,340,350,300,
  270,390,400,570,530,470,430,405,435,420,
  420,460,490,470,445,500,450,360,340,500,
  678,700,760,865,830,885,800,785,840,925,
  850,790,930,880,890,920,875,770,770,880,
  975,1020,970,825,850,870,960,985,880,890,
  860,1085];

const wetLength = [0,0,0,0,0,0,0,0,0,0,0,0,0,0,0,0,0,
  45,0,0,25,25,30,40,70,180,60,
  60,95,95,50,100,150,250,190,150,140,
  175,215,195,165,280,170,235,245,190,130,
  180,185,170,165,240,310,390,390,300,290,
  340,430,540,400,320,270,240,195,185,205,
  270,340,355,420,335,345,370,400,300,320,
  440,440,435,395,375,520,525,560,590,615,
  670,695,695,575,630,660,605,630,595,640,
  620,615,620,618,615,605,615,655,650,590,
  530,480,600];

const dryMarkerLabels = ['b', 'c', 'd', 'e', 'f'];
const dryMarkerX = [20, 46, 68, 84, 99];
const dryMarkerY = [118, 350, 678, 875, 1085];
const wetMarkerLabels = ['g', 'h', 'i', 'j', 'k'];
const wetMarkerX = [18, 45, 67, 77, 99];
const wetMarkerY = [60, 390, 320, 610, 480];

const SVGNS = 'http://www.w3.org/2000/svg';
const xScale = v => 766 + v * 7.54;
const yScale = v => 776 - v * 0.6087;
const axesGroup = document.getElementById('axes');
const seriesGroup = document.getElementById('series');
const markerGroup = document.getElementById('markers');

function make(tag, parent, attrs) {
  const el = document.createElementNS(SVGNS, tag);
  for (const k in attrs) el.setAttribute(k, attrs[k]);
  parent.appendChild(el);
  return el;
}

xTickLabels.forEach(v => {
  const tick = make('line', axesGroup, {x1: xScale(v), x2: xScale(v), y1: 835, y2: 849, stroke: '#222', 'stroke-width': 3});
  
  
  const label = make('text', axesGroup, {x: xScale(v), y: 902, 'font-size': 52, 'text-anchor': 'middle'});
  
  
  label.textContent = v;
});
xMinorTicks.forEach(v => {
  const tick = make('line', axesGroup, {x1: xScale(v), x2: xScale(v), y1: 835, y2: 843, stroke: '#222', 'stroke-width': 3});
  
  
});
yTickLabels.forEach(v => {
  const tick = make('line', axesGroup, {x1: 601, x2: 615, y1: yScale(v), y2: yScale(v), stroke: '#222', 'stroke-width': 3});
  
  
  const label = make('text', axesGroup, {x: 591, y: yScale(v) + 16, 'font-size': 54, 'text-anchor': 'end'});
  
  
  label.textContent = v;
});
yMinorTicks.forEach(v => {
  const tick = make('line', axesGroup, {x1: 607, x2: 615, y1: yScale(v), y2: yScale(v), stroke: '#222', 'stroke-width': 3});
  
  
});

function pointsFor(values) {
  return values.map((v, i) => xScale(cuttingDistance[i]) + ',' + yScale(v)).join(' ');
}
const dryLine = make('polyline', seriesGroup, {points: pointsFor(dryLength), fill: 'none', stroke: '#444', 'stroke-width': 3.5, 'stroke-linejoin': 'round'});


const wetLine = make('polyline', seriesGroup, {points: pointsFor(wetLength), fill: 'none', stroke: '#ff3030', 'stroke-width': 3.5, 'stroke-linejoin': 'round'});



const dryLeader = [[-44,-78], [-57,-44], [-38,-40], [-36,-44], [-44,-29]];
const dryLetter = [[-56,-105], [-84,-66], [-80,-34], [-53,-60], [-72,-3]];
const wetLeader = [[26,38], [36,78], [30,54], [29,62], [20,58]];
const wetLetter = [[50,60], [48,142], [42,118], [39,121], [38,128]];

dryMarkerX.forEach((v, i) => {
  const cx = xScale(v), cy = yScale(dryMarkerY[i]);
  const leader = make('line', markerGroup, {x1: cx, y1: cy, x2: cx + dryLeader[i][0], y2: cy + dryLeader[i][1], stroke: '#111', 'stroke-width': 4});
  
  
  const dot = make('circle', markerGroup, {cx: cx, cy: cy, r: 14, fill: '#0a0a0a'});
  
  
  const label = make('text', markerGroup, {x: cx + dryLetter[i][0], y: cy + dryLetter[i][1], 'font-size': 66, 'text-anchor': 'middle'});
  
  
  label.textContent = dryMarkerLabels[i];
});
wetMarkerX.forEach((v, i) => {
  const cx = xScale(v), cy = yScale(wetMarkerY[i]);
  const leader = make('line', markerGroup, {x1: cx, y1: cy, x2: cx + wetLeader[i][0], y2: cy + wetLeader[i][1], stroke: '#ee1c1c', 'stroke-width': 4});
  
  
  const tri = make('polygon', markerGroup, {points: (cx - 19) + ',' + (cy - 17) + ' ' + (cx + 19) + ',' + (cy - 17) + ' ' + cx + ',' + (cy + 20), fill: '#f01818'});
  
  
  const label = make('text', markerGroup, {x: cx + wetLetter[i][0], y: cy + wetLetter[i][1], 'font-size': 66, 'text-anchor': 'middle'});
  
  
  label.textContent = wetMarkerLabels[i];
});
</script>
</body>
</html>
